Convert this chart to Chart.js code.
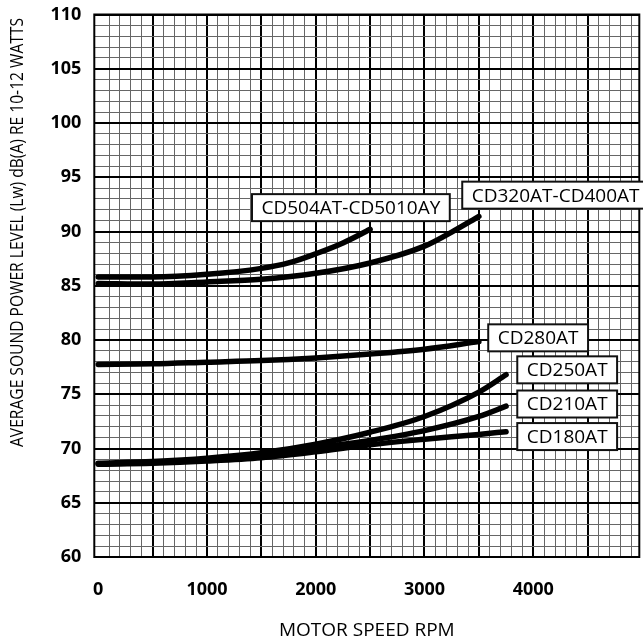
<!DOCTYPE html>
<html>
<head>
<meta charset="utf-8">
<script src="https://cdn.jsdelivr.net/npm/chart.js@4.4.0/dist/chart.umd.min.js"></script>
<style>
  html, body { margin: 0; padding: 0; background: #fff; }
  #wrap { width: 643px; height: 642px; }
</style>
</head>
<body>
<div id="wrap"><canvas id="niveauSonore" width="643" height="642"></canvas></div>
<script>
// vitesses moteur (rpm) pour chaque courbe
const rpmTo2500 = [0, 500, 1000, 1500, 1750, 2000, 2250, 2500];
const rpmTo3500 = [0, 500, 1000, 1500, 2000, 2500, 3000, 3250, 3500];
const rpmTo3500b = [0, 500, 1000, 1500, 2000, 2500, 3000, 3500];
const rpmTo3750 = [0, 500, 1000, 1500, 2000, 2500, 3000, 3500, 3750];

// niveaux dB(A)
const cd504 = [85.8, 85.8, 86.05, 86.6, 87.1, 87.95, 88.95, 90.2];
const cd320 = [85.2, 85.15, 85.35, 85.6, 86.15, 87.1, 88.65, 89.95, 91.4];
const cd280 = [77.75, 77.8, 77.95, 78.1, 78.35, 78.7, 79.15, 79.85];
const cd250 = [68.65, 68.8, 69.1, 69.6, 70.4, 71.5, 72.95, 75.2, 76.8];
const cd210 = [68.6, 68.7, 68.95, 69.35, 70.05, 70.75, 71.65, 72.95, 73.9];
const cd180 = [68.55, 68.65, 68.85, 69.15, 69.7, 70.35, 70.85, 71.3, 71.55];

const seriesNames = ['CD504AT-CD5010AY', 'CD320AT-CD400AT', 'CD280AT', 'CD250AT', 'CD210AT', 'CD180AT'];
const xTickLabels = [0, 1000, 2000, 3000, 4000];
const yTickLabels = [60, 65, 70, 75, 80, 85, 90, 95, 100, 105, 110];

// position des étiquettes (coin gauche, centre vertical) en unités du graphique
const etiquettes = [
    { nom: seriesNames[0], rpm: 1414, db: 92.2 },
    { nom: seriesNames[1], rpm: 3347, db: 93.35 },
    { nom: seriesNames[2], rpm: 3586, db: 80.2 },
    { nom: seriesNames[3], rpm: 3853, db: 77.25 },
    { nom: seriesNames[4], rpm: 3853, db: 74.1 },
    { nom: seriesNames[5], rpm: 3853, db: 71.1 },
];

const points = (xs, ys) => xs.map((v, i) => ({ x: v, y: ys[i] }));

const courbes = [
    points(rpmTo2500, cd504),
    points(rpmTo3500, cd320),
    points(rpmTo3500b, cd280),
    points(rpmTo3750, cd250),
    points(rpmTo3750, cd210),
    points(rpmTo3750, cd180),
];

const police = '"Open Sans", "Noto Sans", sans-serif';

// pas de marge automatique autour des axes, la zone de tracé est fixée par layout.padding
const sansMarge = s => {
    s.paddingTop = 0;
    s.paddingBottom = 0;
    s.paddingLeft = 0;
    s.paddingRight = 0;
};

const cadrePlugin = {
    id: 'cadre',
    beforeDatasetsDraw(chart) {
        const { ctx, chartArea: a } = chart;
        ctx.save();
        ctx.strokeStyle = '#000';
        ctx.lineWidth = 2;
        ctx.strokeRect(a.left, a.top, a.right - a.left, a.bottom - a.top);
        ctx.restore();
    },
    afterDraw(chart) {
        // titre de l'axe vertical, un peu resserré comme sur l'original
        const { ctx } = chart;
        const texte = 'AVERAGE SOUND POWER LEVEL (Lw) dB(A) RE 10-12 WATTS';
        ctx.save();
        ctx.font = '19px ' + police;
        ctx.fillStyle = '#000';
        ctx.textAlign = 'center';
        ctx.textBaseline = 'middle';
        const w = ctx.measureText(texte).width;
        ctx.translate(17.5, 232.5);
        ctx.rotate(-Math.PI / 2);
        ctx.scale(429 / w, 1);
        ctx.fillText(texte, 0, 0);
        ctx.restore();
    }
};

const etiquettesPlugin = {
    id: 'etiquettes',
    afterDatasetsDraw(chart) {
        const { ctx, scales: { x, y } } = chart;
        ctx.save();
        ctx.font = '19px ' + police;
        ctx.textBaseline = 'middle';
        for (const e of etiquettes) {
            const left = x.getPixelForValue(e.rpm);
            const cy = y.getPixelForValue(e.db);
            const w = ctx.measureText(e.nom).width + 19;
            ctx.fillStyle = '#fff';
            ctx.fillRect(left, cy - 13.5, w, 27);
            ctx.lineWidth = 2;
            ctx.strokeStyle = '#111';
            ctx.strokeRect(left, cy - 13.5, w, 27);
            ctx.fillStyle = '#000';
            ctx.fillText(e.nom, left + 9.5, cy + 1);
        }
        ctx.restore();
    }
};

new Chart(document.getElementById('niveauSonore'), {
    type: 'line',
    data: {
        datasets: courbes.map((d, i) => ({
            label: seriesNames[i],
            data: d,
            borderColor: '#000',
            borderWidth: 5.5,
            borderCapStyle: 'round',
            borderJoinStyle: 'round',
            pointRadius: 0,
            cubicInterpolationMode: 'monotone',
            fill: false,
        }))
    },
    options: {
        responsive: false,
        animation: false,
        layout: { padding: { top: 14.5, right: 3.7, left: 0, bottom: 0 } },
        scales: {
            x: {
                type: 'linear',
                min: -36,
                max: 4975,
                afterFit: s => { s.height = 85; sansMarge(s); },
                border: { display: false },
                grid: {
                    drawTicks: false,
                    color: c => c.tick.value === 0 ? 'rgba(0,0,0,0)' : (c.tick.value % 500 === 0 ? '#000' : '#666'),
                    lineWidth: c => c.tick.value % 500 === 0 ? 2 : 1,
                },
                ticks: {
                    stepSize: 100,
                    includeBounds: false,
                    autoSkip: false,
                    maxRotation: 0,
                    padding: 22,
                    color: '#000',
                    font: { family: police, size: 18, weight: 'bold' },
                    callback: v => xTickLabels.includes(v) ? String(v) : '',
                },
                title: {
                    display: true,
                    text: 'MOTOR SPEED RPM',
                    color: '#000',
                    font: { family: police, size: 19 },
                    padding: { top: 0, bottom: 0 },
                },
            },
            y: {
                min: 60,
                max: 110,
                afterFit: s => { s.width = 94.3; sansMarge(s); },
                border: { display: false },
                grid: {
                    drawTicks: false,
                    color: c => c.tick.value % 5 === 0 ? '#000' : '#666',
                    lineWidth: c => c.tick.value % 5 === 0 ? 2 : 1,
                },
                ticks: {
                    stepSize: 1,
                    autoSkip: false,
                    padding: 13,
                    color: '#000',
                    font: { family: police, size: 18, weight: 'bold' },
                    callback: v => yTickLabels.includes(v) ? String(v) : '',
                },
            },
        },
        plugins: {
            legend: { display: false },
            tooltip: { enabled: false },
        },
    },
    plugins: [cadrePlugin, etiquettesPlugin],
});
</script>
</body>
</html>
